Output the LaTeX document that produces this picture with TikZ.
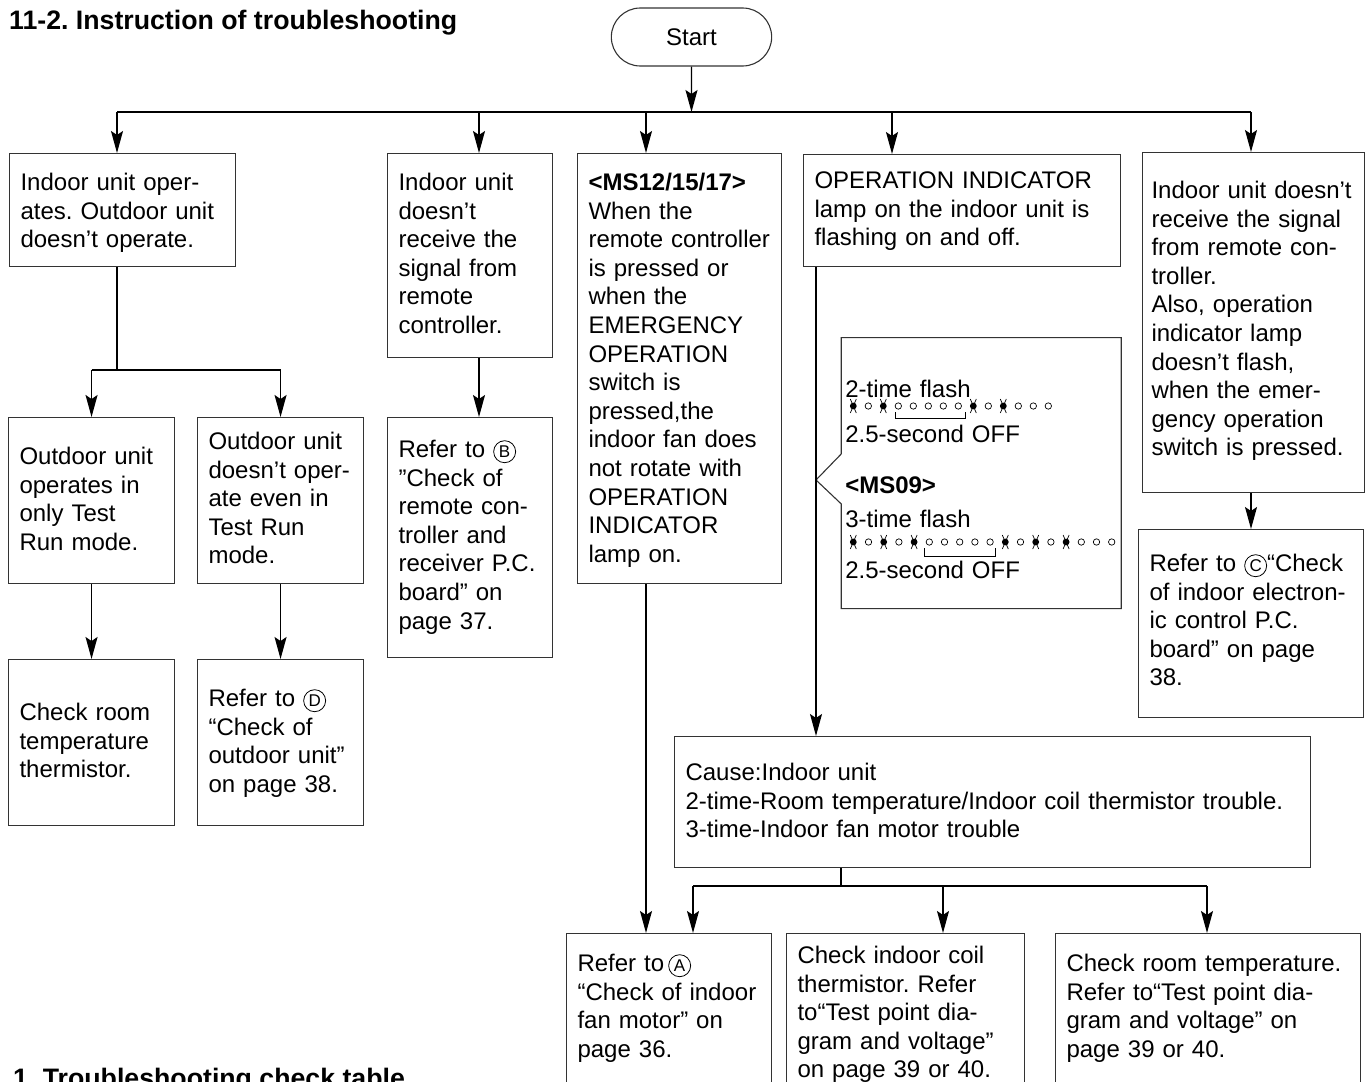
\documentclass[tikz,border=0pt]{standalone}
\usepackage{fontspec}
\setmainfont{Liberation Sans}
\usepackage{tikz}
\usetikzlibrary{arrows.meta,shapes.misc,shapes.callouts,positioning,calc}
\frenchspacing

\newcommand{\encl}[1]{\tikz[baseline=(l.base)]\node[draw,circle,line width=0.8pt,inner sep=0pt,minimum size=22pt,font=\fontsize{17}{17}\selectfont] (l) {#1};}

\begin{document}
\begin{tikzpicture}[x=1pt,y=-1pt,
    box/.style={draw=black!80, line width=1.1pt, anchor=north west, align=left, inner xsep=11pt, text height=17pt, font=\fontsize{24}{28.6}\selectfont},
    arr/.style={line width=1.4pt, -{Stealth[length=22pt,width=12pt,inset=4pt]}},
    link/.style={line width=1.4pt},
    head/.style={anchor=base west, inner sep=0pt, font=\fontsize{26.7}{30}\selectfont\bfseries}]
	\useasboundingbox (0,0) rectangle (1366,1082);

	\node[head] (title) at (9,29.5) {11-2. Instruction of troubleshooting};
	\node[head] (table) at (13,1087) {1. Troubleshooting check table};

	\node[draw=black!80, line width=1.1pt, rounded rectangle, minimum width=167pt, minimum height=58pt, font=\fontsize{24}{28}\selectfont] (start) at (691.5,37) {Start};

	% first row
	\node[box, text width=204pt, inner ysep=20pt, text depth=56pt] (outoff) at (9,153) {Indoor unit oper-\\ates. Outdoor unit\\doesn’t operate.};
	\node[box, text width=143pt, inner ysep=20pt, text depth=147pt] (norecv) at (387,153) {Indoor unit\\doesn’t\\receive the\\signal from\\remote\\controller.};
	\node[box, text width=182pt, inner ysep=20pt, text depth=373pt] (fanstop) at (577,153) {\textbf{<MS12/15/17>}\\When the\\remote controller\\is pressed or\\when the\\EMERGENCY\\OPERATION\\switch is\\pressed,the\\indoor fan does\\not rotate with\\OPERATION\\INDICATOR\\lamp on.};
	\node[box, text width=295pt, inner ysep=17pt, text depth=61pt] (lampflash) at (803,154) {OPERATION INDICATOR\\lamp on the indoor unit is\\flashing on and off.};
	\node[box, inner xsep=9pt, text width=204pt, inner ysep=29pt, text depth=265pt] (nosignal) at (1142,152) {Indoor unit doesn’t\\receive the signal\\from remote con-\\troller.\\Also, operation\\indicator lamp\\doesn’t flash,\\when the emer-\\gency operation\\switch is pressed.};

	% second row
	\node[box, text width=144pt, inner ysep=30pt, text depth=89pt] (testrun) at (8,417) {Outdoor unit\\operates in\\only Test\\Run mode.};
	\node[box, text width=144pt, inner ysep=15pt, text depth=119pt] (notest) at (197,417) {Outdoor unit\\doesn’t oper-\\ate even in\\Test Run\\mode.};
	\node[box, text width=143pt, inner ysep=23pt, text depth=177pt] (refB) at (387,417) {Refer to \encl{B}\\”Check of\\remote con-\\troller and\\receiver P.C.\\board” on\\page 37.};
	\node[box, text width=203pt, inner ysep=25pt, text depth=121pt] (refC) at (1138,529) {Refer to \encl{C}“Check\\of indoor electron-\\ic control P.C.\\board” on page\\38.};

	\node[box, rectangle callout, callout absolute pointer={(816,480)}, callout pointer width=50pt, inner xsep=4pt, text width=272pt, inner ysep=43pt, text depth=168pt] (flash) at (840.7,337) {2-time flash\\[16.4pt]2.5-second OFF\\[22.4pt]\textbf{<MS09>}\\[5.4pt]3-time flash\\[22.4pt]2.5-second OFF};

	% third row
	\node[box, text width=144pt, inner ysep=44pt, text depth=61pt] (thermo) at (8,659) {Check room\\temperature\\thermistor.};
	\node[box, text width=144pt, inner ysep=30pt, text depth=89pt] (refD) at (197,659) {Refer to \encl{D}\\“Check of\\outdoor unit”\\on page 38.};
	\node[box, text width=614pt, inner ysep=27pt, text depth=60pt] (cause) at (674,736) {Cause:Indoor unit\\2-time-Room temperature/Indoor coil thermistor trouble.\\3-time-Indoor fan motor trouble};

	% bottom row
	\node[box, text width=183pt, inner ysep=21pt, text depth=108pt] (refA) at (566,933) {Refer to\,\encl{A}\\“Check of indoor\\fan motor” on\\page 36.};
	\node[box, text width=216pt, inner ysep=13pt, text depth=124pt] (coil) at (786,933) {Check indoor coil\\thermistor. Refer\\to“Test point dia-\\gram and voltage”\\on page 39 or 40.};
	\node[box, text width=283pt, inner ysep=21pt, text depth=108pt] (room) at (1055,933) {Check room temperature.\\Refer to“Test point dia-\\gram and voltage” on\\page 39 or 40.};

	% flash patterns
	\foreach \i in {1,3,4,5,6,7,9,11,12,13}
		\draw[line width=0.7pt] (853.3+15*\i,406) circle (3.2pt);
	\foreach \i in {0,2,8,10} {
		\fill (853.3+15*\i,406) circle (3.4pt);
		\draw[line width=0.7pt] (850.3+15*\i,399) -- (856.3+15*\i,413) (856.3+15*\i,399) -- (850.3+15*\i,413);
	}
	\draw[line width=0.8pt] (895,412) -- (895,418.5) -- (965,418.5) -- (965,412);
	\foreach \i in {1,3,5,6,7,8,9,11,13,15,16,17}
		\draw[line width=0.7pt] (853.3+15.2*\i,542) circle (3.2pt);
	\foreach \i in {0,2,4,10,12,14} {
		\fill (853.3+15.2*\i,542) circle (3.4pt);
		\draw[line width=0.7pt] (850.3+15.2*\i,535) -- (856.3+15.2*\i,549) (856.3+15.2*\i,535) -- (850.3+15.2*\i,549);
	}
	\draw[line width=0.8pt] (924,548) -- (924,556) -- (995,556) -- (995,548);

	% connectors
	\coordinate (busL) at (117,112);
	\coordinate (busR) at (1251,112);
	\draw[arr] (start) -- (start |- busL);
	\draw[link] (busL) -- (busR);
	\foreach \x/\n in {117/outoff,479/norecv,646/fanstop,892/lampflash,1251/nosignal} {
		\coordinate (t\n) at (\x,112);
		\draw[arr] (t\n) -- (t\n |- \n.north);
	}

	\coordinate (split) at (117,370);
	\draw[link] (toutoff |- outoff.south) -- (split);
	\draw[link] (testrun.north |- split) -- (notest.north |- split);
	\draw[arr] (testrun.north |- split) -- (testrun);
	\draw[arr] (notest.north |- split) -- (notest);
	\draw[arr] (testrun) -- (thermo);
	\draw[arr] (notest) -- (refD);
	\draw[arr] (tnorecv |- norecv.south) -- (tnorecv |- refB.north);
	\draw[arr] (tnosignal |- nosignal.south) -- (tnosignal |- refC.north);
	\draw[arr] (tfanstop |- fanstop.south) -- (tfanstop |- refA.north);

	\coordinate (lamp) at (816,0);
	\draw[arr] (lamp |- lampflash.south) -- (lamp |- cause.north);

	\coordinate (join) at (841,886);
	\draw[link] (join |- cause.south) -- (join);
	\coordinate (pA) at (693,886);
	\coordinate (pB) at (943,886);
	\coordinate (pC) at (1207,886);
	\draw[link] (pA) -- (pC);
	\foreach \p/\n in {pA/refA,pB/coil,pC/room}
		\draw[arr] (\p) -- (\p |- \n.north);
\end{tikzpicture}
\end{document}
